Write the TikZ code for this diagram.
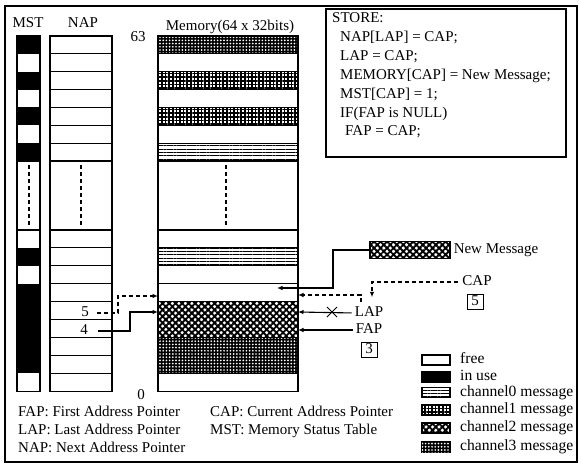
\documentclass[tikz,border=0pt]{standalone}
\usepackage{fontspec}
\setmainfont{Liberation Serif}
\usetikzlibrary{patterns.meta,arrows.meta}
\begin{document}
\begin{tikzpicture}[x=1pt,y=-1pt,
  lw/.style={line width=1.1pt},
  txt/.style={font=\fontsize{15}{17}\selectfont, inner sep=0pt, text height=10pt, text depth=3pt},
  legtxt/.style={txt, font=\fontsize{15.6}{17}\selectfont},
  dsh/.style={line width=1.1pt, dash pattern=on 4pt off 3pt},
  arr/.style={-{Latex[length=5.5pt,width=4.5pt]}},
  wh/.style={fill=white},
  bk/.style={fill=black},
  chz/.style={fill=white, postaction={pattern={Lines[angle=0,distance=3.3pt,line width=0.9pt]}, pattern color=black}},
  cho/.style={fill=white, postaction={pattern={Hatch[angle=0,distance=3.6pt,line width=1.5pt]}, pattern color=black}},
  chtw/.style={fill=white, postaction={pattern={Hatch[angle=45,distance=4.6pt,line width=1.9pt]}, pattern color=black}},
  chth/.style={fill=black, postaction={pattern={Dots[distance=3.2pt,radius=0.95pt]}, pattern color=white}},
  vdts/.style={line width=2pt, dash pattern=on 4pt off 3pt},
  valbox/.style={txt, draw, line width=1pt, minimum width=16pt, minimum height=15pt},
]
\useasboundingbox (0,0) rectangle (581,466);
\def\rh{17.86}
\def\rb{17.9}
% outer frame
\draw[line width=1.3pt] (5,6) rectangle (577,462);

% ---------- MST ----------
\foreach \k/\s in {0/bk,1/wh,2/bk,3/wh,4/bk,5/wh,6/bk}
  \path[\s] (17,{36+\k*\rh}) rectangle (40,{36+(\k+1)*\rh});
\foreach \k/\s in {0/wh,1/bk,2/wh,3/bk,4/bk,5/bk,6/bk,7/bk,8/wh}
  \path[\s] (17,{230+\k*\rb}) rectangle (40,{230+(\k+1)*\rb});
\draw[lw] (17,36) rectangle (40,391.1);
\draw[lw] (17,161) -- (40,161) (17,230) -- (40,230);
\draw[vdts] (28.5,165) -- (28.5,226);

% ---------- NAP ----------
\draw[lw] (50,36) rectangle (112,391.1);
\foreach \k in {1,...,7} \draw[lw] (50,{36+\k*\rh}) -- (112,{36+\k*\rh});
\foreach \k in {0,...,8} \draw[lw] (50,{230+\k*\rb}) -- (112,{230+\k*\rb});
\draw[vdts] (81,165) -- (81,226);

% ---------- Memory ----------
\foreach \k/\s in {0/chth,1/wh,2/cho,3/wh,4/cho,5/wh,6/chz}
  \path[\s] (158,{36+\k*\rh}) rectangle (298,{36+(\k+1)*\rh});
\foreach \k/\s in {0/wh,1/chz,2/wh,3/wh,4/chtw,5/chtw,6/chth,7/chth,8/wh}
  \path[\s] (158,{230+\k*\rb}) rectangle (298,{230+(\k+1)*\rb});
\draw[lw] (158,36) rectangle (298,391.1);
\foreach \k in {1,...,7} \draw[lw] (158,{36+\k*\rh}) -- (298,{36+\k*\rh});
\foreach \k in {0,1,2,3,4,6,8} \draw[lw] (158,{230+\k*\rb}) -- (298,{230+\k*\rb});
\draw[vdts] (226,165) -- (226,226);

% headings
\node[txt] (mst) at (28,24) {MST};
\node[txt] (nap) at (83,24) {NAP};
\node[txt] (memt) at (230,27) {Memory(64 x 32bits)};
\node[txt] (top63) at (138,38) {63};
\node[txt] (bot0) at (141,396) {0};

% memory edge coordinates
\coordinate (mL5) at (158,296);
\coordinate (mL4) at (158,312);
\coordinate (mR5) at (298,295);
\coordinate (mR4) at (298,312);
\coordinate (mR3) at (298,330);
\coordinate (mIn) at (277,288);

% NAP entries and arrows
\node[txt] (n5) at (85,313) {5};
\node[txt] (n4) at (84,331) {4};
\draw[dsh,arr,shorten <=8pt] (n5.east) -- (118,313) |- (mL5);
\draw[lw,arr,shorten <=10pt] (n4.east) -- (130,331) |- (mL4);

% right side pointers
\node[txt] (lap) at (369,313) {LAP};
\node[txt] (fap) at (369,330) {FAP};
\node[txt] (cap) at (477,282) {CAP};
\node[valbox] (capv) at (475,302) {5};
\node[valbox] (fapv) at (369,350) {3};
\draw[lw,arr,shorten <=3pt] (lap.west) -- (mR4);
\draw[lw,arr,shorten <=3pt] (fap.west) -- (mR3);
\draw[line width=1pt] (327,307) -- (337,317) (327,317) -- (337,307);
\draw[dsh,arr,shorten <=4pt,shorten >=9pt] (cap.west) -| ([xshift=3pt]lap.north);
\draw[dsh,arr,shorten <=4pt] ([xshift=-8pt]lap.north) |- (mR5);

% new message
\node[chtw, draw, lw, minimum width=80pt, minimum height=17pt, inner sep=0pt] (nmbox) at (410,250) {};
\node[txt, anchor=west] (nmtxt) at ([xshift=3pt]nmbox.east) {New Message};
\draw[lw,arr] (nmbox.west) -- (333,250) |- (mIn);

% STORE box
\draw[lw] (326,9) rectangle (566,157);
\node[txt, anchor=west] (s0) at (332,19) {STORE:};
\node[txt, anchor=west] (s1) at (340,38) {NAP[LAP] = CAP;};
\node[txt, anchor=west] (s2) at (340,57) {LAP = CAP;};
\node[txt, anchor=west] (s3) at (340,76) {MEMORY[CAP] = New Message;};
\node[txt, anchor=west] (s4) at (340,95) {MST[CAP] = 1;};
\node[txt, anchor=west] (s5) at (340,114) {IF(FAP is NULL)};
\node[txt, anchor=west] (s6) at (345,132) {FAP = CAP;};

% legend
\foreach \y/\s/\t [count=\i] in {360/wh/free,377/bk/in use,392.5/chz/channel0 message,410/cho/channel1 message,428/chtw/channel2 message,447/chth/channel3 message}{
  \draw[lw,\s] (422,\y-5) rectangle (450,\y+5);
  \node[legtxt, anchor=west] (leg\i) at (460,\y) {\t};
}

% abbreviations
\node[txt, anchor=west] (a1) at (18,413) {FAP: First Address Pointer};
\node[txt, anchor=west] (a2) at (18,431) {LAP: Last Address Pointer};
\node[txt, anchor=west] (a3) at (18,449) {NAP: Next Address Pointer};
\node[txt, anchor=west] (a4) at (210,413) {CAP: Current Address Pointer};
\node[txt, anchor=west] (a5) at (210,431) {MST: Memory Status Table};
\end{tikzpicture}
\end{document}
